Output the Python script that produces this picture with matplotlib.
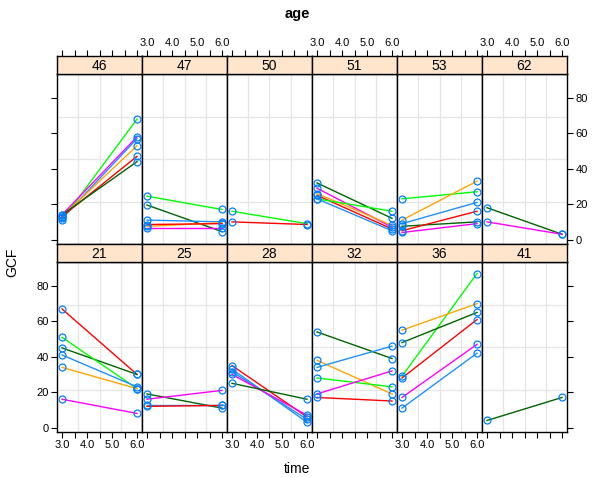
import matplotlib
matplotlib.use("Agg")
import matplotlib.pyplot as plt
import numpy as np

plt.rcParams["font.family"] = ["Liberation Sans", "DejaVu Sans"]

# lattice-style GCF ~ time | age, one line per subject

times = [3.0, 6.0]

RED = "#ff0000"
GREEN = "#00ff00"
DKGREEN = "#006400"
BLUE = "#1e90ff"
ORANGE = "#ffa500"
MAGENTA = "#ff00ff"

# top row
a46_cols = [GREEN, MAGENTA, BLUE, ORANGE, RED, DKGREEN]
a46_t3 = [11, 14, 12, 13, 13, 14]
a46_t6 = [68, 58, 57, 53, 47, 44]

a47_cols = [GREEN, DKGREEN, BLUE, ORANGE, RED, MAGENTA]
a47_t3 = [24.5, 19.5, 11, 7.5, 8.5, 6.5]
a47_t6 = [17, 4.5, 10, 9.5, 9, 6.5]

a50_cols = [GREEN, RED]
a50_t3 = [16, 10]
a50_t6 = [9, 8.5]

a51_cols = [DKGREEN, MAGENTA, ORANGE, RED, GREEN, BLUE]
a51_t3 = [32, 29, 26, 25, 23, 23]
a51_t6 = [12, 7, 8, 6, 16, 5]

a53_cols = [GREEN, ORANGE, BLUE, DKGREEN, RED, MAGENTA]
a53_t3 = [23, 11, 9, 7.5, 5, 4]
a53_t6 = [27, 33, 21, 10, 16, 9]

a62_cols = [DKGREEN, MAGENTA]
a62_t3 = [18, 10]
a62_t6 = [3, 3]

# bottom row
a21_cols = [RED, DKGREEN, GREEN, BLUE, ORANGE, MAGENTA]
a21_t3 = [67, 45, 51, 41, 34, 16]
a21_t6 = [30, 30, 22, 23, 22, 8]

a25_cols = [DKGREEN, MAGENTA, BLUE, RED]
a25_t3 = [19, 16, 13, 12]
a25_t6 = [11, 21, 13, 12.5]

a28_cols = [RED, BLUE, BLUE, MAGENTA, DKGREEN]
a28_t3 = [35, 33, 31.5, 30, 25]
a28_t6 = [6, 3, 4.7, 7, 16]

a32_cols = [DKGREEN, ORANGE, BLUE, GREEN, MAGENTA, RED]
a32_t3 = [54, 38, 34, 28, 19, 17]
a32_t6 = [39, 19, 46, 23, 32, 15]

a36_cols = [GREEN, ORANGE, DKGREEN, RED, MAGENTA, BLUE]
a36_t3 = [29, 55, 48, 28, 17, 11]
a36_t6 = [87, 70, 65, 61, 47, 42]

a41_cols = [DKGREEN]
a41_t3 = [4]
a41_t6 = [17]

top_ages = ["46", "47", "50", "51", "53", "62"]
bottom_ages = ["21", "25", "28", "32", "36", "41"]

panels = {
    "46": (a46_cols, a46_t3, a46_t6), "47": (a47_cols, a47_t3, a47_t6),
    "50": (a50_cols, a50_t3, a50_t6), "51": (a51_cols, a51_t3, a51_t6),
    "53": (a53_cols, a53_t3, a53_t6), "62": (a62_cols, a62_t3, a62_t6),
    "21": (a21_cols, a21_t3, a21_t6), "25": (a25_cols, a25_t3, a25_t6),
    "28": (a28_cols, a28_t3, a28_t6), "32": (a32_cols, a32_t3, a32_t6),
    "36": (a36_cols, a36_t3, a36_t6), "41": (a41_cols, a41_t3, a41_t6),
}

xticks = [3.0, 3.5, 4.0, 4.5, 5.0, 5.5, 6.0]
xticklabels = ["3.0", "", "4.0", "", "5.0", "", "6.0"]
yticks = [0, 20, 40, 60, 80]
xlim = (2.8, 6.2)
ylim = (-2.5, 93.5)

W, H = 595, 478
fig = plt.figure(figsize=(W / 100, H / 100), dpi=100)


def box(x, y, w, h):
    # pixel box (from top-left) to figure fraction
    return [x / W, 1 - (y + h) / H, w / W, h / H]


x0, pw = 57, 85
rows = [(top_ages, 56, 74), (bottom_ages, 244, 262)]
ph, sh = 170, 18
for r, (ages, strip_y, panel_y) in enumerate(rows):
    for c, age in enumerate(ages):
        ax = fig.add_axes(box(x0 + c * pw, panel_y, pw, ph))
        ax.set_xlim(xlim)
        ax.set_ylim(ylim)
        for gx in np.linspace(xlim[0], xlim[1], 5)[1:-1]:
            ax.axvline(gx, color="#e6e6e6", lw=0.9, zorder=0)
        for gy in np.linspace(ylim[0], ylim[1], 5)[1:-1]:
            ax.axhline(gy, color="#e6e6e6", lw=0.9, zorder=0)
        cols, y3, y6 = panels[age]
        for col, a, b in zip(cols, y3, y6):
            ax.plot(times, [a, b], color=col, lw=1, zorder=2)
            ax.plot(times, [a, b], "o", mfc="none", mec="#0080ff",
                    ms=5, mew=0.9, zorder=3)
        for s in ax.spines.values():
            s.set_linewidth(1)
        ax.tick_params(direction="out", length=4, width=0.8, labelsize=8,
                       colors="black")
        # x ticks
        ax.set_xticks(xticks)
        if r == 1:
            ax.set_xticklabels(xticklabels if c % 2 == 0 else [""] * 7)
            ax.tick_params(axis="x", bottom=True, top=False, pad=2)
        else:
            ax.tick_params(axis="x", bottom=False, labelbottom=False)
        # y ticks
        ax.set_yticks(yticks)
        if c == 0:
            ax.tick_params(axis="y", left=True, right=False,
                           labelleft=(r == 1), labelright=False, pad=2)
        elif c == 5:
            ax.tick_params(axis="y", left=False, right=True,
                           labelleft=False, labelright=(r == 0), pad=2)
        else:
            ax.tick_params(axis="y", left=False, right=False,
                           labelleft=False, labelright=False)

        sax = fig.add_axes(box(x0 + c * pw, strip_y, pw, sh))
        sax.set_facecolor("#ffe5cc")
        sax.set_xlim(xlim)
        sax.set_yticks([])
        for s in sax.spines.values():
            s.set_linewidth(1)
        sax.text(0.5, 0.45, age, transform=sax.transAxes, ha="center",
                 va="center", fontsize=10)
        if r == 0:
            sax.set_xticks(xticks)
            sax.xaxis.tick_top()
            sax.set_xticklabels(xticklabels if c % 2 == 1 else [""] * 7)
            sax.tick_params(axis="x", direction="out", length=4, width=0.8,
                            labelsize=8, pad=2)
        else:
            sax.set_xticks([])

fig.text(0.5, 1 - 14 / H, "age", ha="center", va="center",
         fontsize=10.5, fontweight="bold")
fig.text(0.5, 1 - 469 / H, "time", ha="center", va="center", fontsize=10)
fig.text(12 / W, 1 - 262 / H, "GCF", ha="center", va="center",
         rotation=90, fontsize=10)

fig.savefig("out.png", dpi=100)
